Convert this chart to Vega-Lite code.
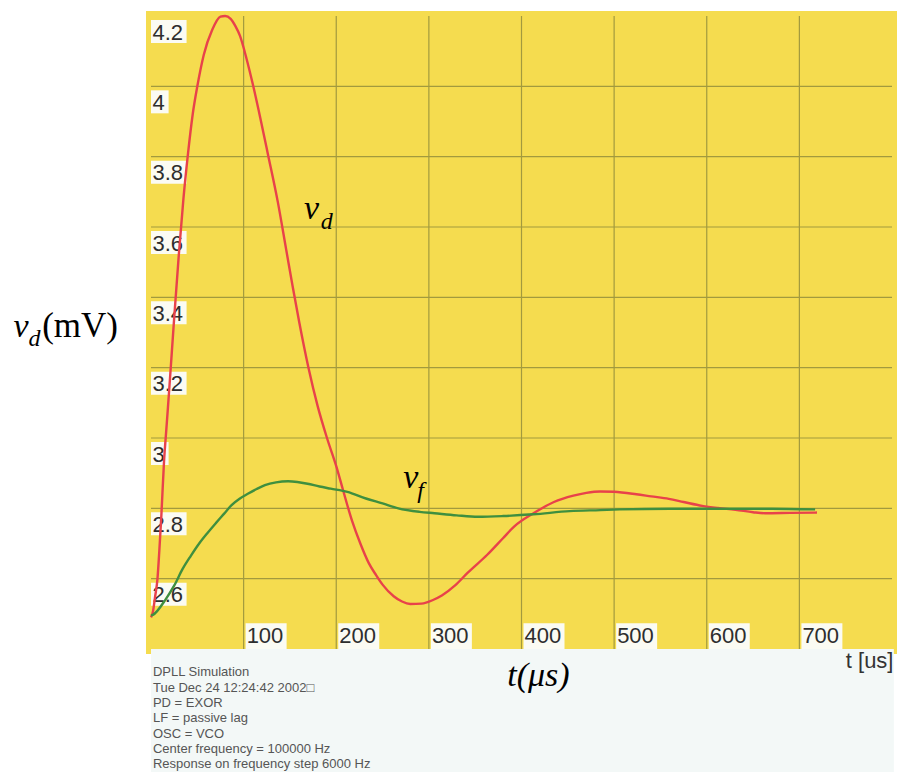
{
  "$schema": "https://vega.github.io/schema/vega-lite/v6.json",
  "width": 751,
  "height": 643,
  "autosize": {"type": "none"},
  "padding": {"left": 146, "top": 11, "right": 2, "bottom": 122},
  "background": "#ffffff",
  "config": {"view": {"stroke": null, "fill": "#f5dc4f"}},
  "datasets": {
    "curves": [
      {"series": "vd", "t": 0, "v": 2.49}, {"series": "vd", "t": 2, "v": 2.505}, {"series": "vd", "t": 4.5, "v": 2.55},
      {"series": "vd", "t": 7, "v": 2.6}, {"series": "vd", "t": 9, "v": 2.68}, {"series": "vd", "t": 11, "v": 2.77},
      {"series": "vd", "t": 14, "v": 2.93}, {"series": "vd", "t": 17, "v": 3.04}, {"series": "vd", "t": 20, "v": 3.15},
      {"series": "vd", "t": 25, "v": 3.34}, {"series": "vd", "t": 30, "v": 3.52}, {"series": "vd", "t": 35, "v": 3.68},
      {"series": "vd", "t": 40, "v": 3.81}, {"series": "vd", "t": 45, "v": 3.92}, {"series": "vd", "t": 50, "v": 4.0},
      {"series": "vd", "t": 57, "v": 4.09}, {"series": "vd", "t": 66, "v": 4.16}, {"series": "vd", "t": 75, "v": 4.198},
      {"series": "vd", "t": 80, "v": 4.2}, {"series": "vd", "t": 86, "v": 4.192}, {"series": "vd", "t": 91, "v": 4.172},
      {"series": "vd", "t": 96, "v": 4.144}, {"series": "vd", "t": 103, "v": 4.08}, {"series": "vd", "t": 110, "v": 4.005},
      {"series": "vd", "t": 118, "v": 3.91}, {"series": "vd", "t": 126, "v": 3.81}, {"series": "vd", "t": 137, "v": 3.67},
      {"series": "vd", "t": 146, "v": 3.535}, {"series": "vd", "t": 153, "v": 3.43}, {"series": "vd", "t": 160, "v": 3.33},
      {"series": "vd", "t": 170, "v": 3.2}, {"series": "vd", "t": 180, "v": 3.09}, {"series": "vd", "t": 190, "v": 3.0},
      {"series": "vd", "t": 200, "v": 2.92}, {"series": "vd", "t": 207, "v": 2.855}, {"series": "vd", "t": 217, "v": 2.765},
      {"series": "vd", "t": 226, "v": 2.7}, {"series": "vd", "t": 235, "v": 2.645}, {"series": "vd", "t": 243, "v": 2.61},
      {"series": "vd", "t": 250, "v": 2.583}, {"series": "vd", "t": 262, "v": 2.55}, {"series": "vd", "t": 271, "v": 2.535},
      {"series": "vd", "t": 280, "v": 2.528}, {"series": "vd", "t": 292, "v": 2.529}, {"series": "vd", "t": 305, "v": 2.54},
      {"series": "vd", "t": 314, "v": 2.552}, {"series": "vd", "t": 328, "v": 2.58}, {"series": "vd", "t": 342, "v": 2.617},
      {"series": "vd", "t": 363, "v": 2.668}, {"series": "vd", "t": 380, "v": 2.715}, {"series": "vd", "t": 392, "v": 2.748},
      {"series": "vd", "t": 413, "v": 2.786}, {"series": "vd", "t": 435, "v": 2.818}, {"series": "vd", "t": 456, "v": 2.836},
      {"series": "vd", "t": 470, "v": 2.844}, {"series": "vd", "t": 485, "v": 2.848}, {"series": "vd", "t": 500, "v": 2.847},
      {"series": "vd", "t": 524, "v": 2.84}, {"series": "vd", "t": 540, "v": 2.834}, {"series": "vd", "t": 559, "v": 2.827},
      {"series": "vd", "t": 575, "v": 2.818}, {"series": "vd", "t": 595, "v": 2.807}, {"series": "vd", "t": 612, "v": 2.801},
      {"series": "vd", "t": 631, "v": 2.796}, {"series": "vd", "t": 650, "v": 2.789}, {"series": "vd", "t": 663, "v": 2.786},
      {"series": "vd", "t": 690, "v": 2.787}, {"series": "vd", "t": 719, "v": 2.788},
      {"series": "vf", "t": 0, "v": 2.495}, {"series": "vf", "t": 2, "v": 2.497}, {"series": "vf", "t": 16, "v": 2.542},
      {"series": "vf", "t": 25, "v": 2.58}, {"series": "vf", "t": 34, "v": 2.627}, {"series": "vf", "t": 43, "v": 2.665},
      {"series": "vf", "t": 52, "v": 2.7}, {"series": "vf", "t": 61, "v": 2.73}, {"series": "vf", "t": 70, "v": 2.758},
      {"series": "vf", "t": 79, "v": 2.785}, {"series": "vf", "t": 87, "v": 2.809}, {"series": "vf", "t": 96, "v": 2.828},
      {"series": "vf", "t": 105, "v": 2.842}, {"series": "vf", "t": 114, "v": 2.855}, {"series": "vf", "t": 123, "v": 2.866},
      {"series": "vf", "t": 135, "v": 2.874}, {"series": "vf", "t": 148, "v": 2.877}, {"series": "vf", "t": 158, "v": 2.875},
      {"series": "vf", "t": 169, "v": 2.87}, {"series": "vf", "t": 182, "v": 2.862}, {"series": "vf", "t": 194, "v": 2.856},
      {"series": "vf", "t": 212, "v": 2.847}, {"series": "vf", "t": 232, "v": 2.828}, {"series": "vf", "t": 250, "v": 2.814},
      {"series": "vf", "t": 267, "v": 2.8}, {"series": "vf", "t": 290, "v": 2.79}, {"series": "vf", "t": 306, "v": 2.786},
      {"series": "vf", "t": 330, "v": 2.78}, {"series": "vf", "t": 353, "v": 2.776}, {"series": "vf", "t": 380, "v": 2.778},
      {"series": "vf", "t": 413, "v": 2.783}, {"series": "vf", "t": 452, "v": 2.792}, {"series": "vf", "t": 485, "v": 2.795},
      {"series": "vf", "t": 506, "v": 2.797}, {"series": "vf", "t": 560, "v": 2.799}, {"series": "vf", "t": 613, "v": 2.799},
      {"series": "vf", "t": 670, "v": 2.799}, {"series": "vf", "t": 717, "v": 2.797}
    ],
    "xticks": [{"t": 100}, {"t": 200}, {"t": 300}, {"t": 400}, {"t": 500}, {"t": 600}, {"t": 700}],
    "yticks": [{"v": 2.6}, {"v": 2.8}, {"v": 3.0}, {"v": 3.2}, {"v": 3.4}, {"v": 3.6}, {"v": 3.8}, {"v": 4.0}, {"v": 4.2}],
    "big": [
      {"label": "v", "t": 165.2, "v": 3.624},
      {"label": "v", "t": 272.2, "v": 2.858},
      {"label": "v", "t": -148.5, "v": 3.288},
      {"label": "t(μs)", "t": 384.6, "v": 2.294}
    ],
    "sub": [
      {"label": "d", "t": 183.2, "v": 3.593},
      {"label": "f", "t": 287.5, "v": 2.829},
      {"label": "d", "t": -132.3, "v": 3.263}
    ],
    "roman": [{"label": "(mV)", "t": -117.5, "v": 3.288}],
    "unit": [{"label": "t [us]", "t": 801.6, "v": 2.347}],
    "info": [{"label": "DPLL Simulation\nTue Dec 24 12:24:42 2002□\nPD = EXOR\nLF = passive lag\nOSC = VCO\nCenter frequency = 100000 Hz\nResponse on frequency step 6000 Hz", "t": 2.1, "v": 2.322}]
  },
  "layer": [
    {
      "data": {"values": [{"region": "footer"}]},
      "mark": {"type": "rect", "color": "#f3f8f7"},
      "encoding": {
        "x": {"datum": 0, "type": "quantitative", "scale": {"domain": [0, 800], "nice": false, "zero": false}, "axis": null},
        "x2": {"datum": 802},
        "y": {"datum": 2.4, "type": "quantitative", "scale": {"domain": [2.4, 4.2], "nice": false, "zero": false}, "axis": null},
        "y2": {"datum": 2.05}
      }
    },
    {
      "data": {"name": "xticks"},
      "mark": {"type": "rule", "color": "#a29a3e", "strokeWidth": 1.2},
      "encoding": {
        "x": {"field": "t", "type": "quantitative", "scale": {"domain": [0, 800], "nice": false, "zero": false}, "axis": null},
        "y": {"datum": 2.4, "type": "quantitative", "scale": {"domain": [2.4, 4.2], "nice": false, "zero": false}, "axis": null},
        "y2": {"datum": 4.2}
      }
    },
    {
      "data": {"name": "yticks"},
      "transform": [{"filter": "datum.v < 4.1"}],
      "mark": {"type": "rule", "color": "#a29a3e", "strokeWidth": 1.2},
      "encoding": {
        "x": {"datum": 0, "type": "quantitative", "scale": {"domain": [0, 800], "nice": false, "zero": false}, "axis": null},
        "x2": {"datum": 800},
        "y": {"field": "v", "type": "quantitative", "scale": {"domain": [2.4, 4.2], "nice": false, "zero": false}, "axis": null}
      }
    },
    {
      "data": {"name": "xticks"},
      "mark": {"type": "bar", "color": "#fbfbf3", "width": 41, "xOffset": 22.5},
      "encoding": {
        "x": {"field": "t", "type": "quantitative", "scale": {"domain": [0, 800], "nice": false, "zero": false}, "axis": null},
        "y": {"datum": 2.4, "type": "quantitative", "scale": {"domain": [2.4, 4.2], "nice": false, "zero": false}, "axis": null},
        "y2": {"datum": 2.473}
      }
    },
    {
      "data": {"name": "yticks"},
      "transform": [{"filter": "datum.v != 4 && datum.v != 3"}],
      "mark": {"type": "bar", "color": "#fbfbf3", "height": 23, "yOffset": 15.5},
      "encoding": {
        "x": {"datum": 0, "type": "quantitative", "scale": {"domain": [0, 800], "nice": false, "zero": false}, "axis": null},
        "x2": {"datum": 38.4},
        "y": {"field": "v", "type": "quantitative", "scale": {"domain": [2.4, 4.2], "nice": false, "zero": false}, "axis": null}
      }
    },
    {
      "data": {"name": "yticks"},
      "transform": [{"filter": "datum.v == 4 || datum.v == 3"}],
      "mark": {"type": "bar", "color": "#fbfbf3", "height": 23, "yOffset": 15.5},
      "encoding": {
        "x": {"datum": 0, "type": "quantitative", "scale": {"domain": [0, 800], "nice": false, "zero": false}, "axis": null},
        "x2": {"datum": 19},
        "y": {"field": "v", "type": "quantitative", "scale": {"domain": [2.4, 4.2], "nice": false, "zero": false}, "axis": null}
      }
    },
    {
      "data": {"name": "xticks"},
      "mark": {"type": "text", "align": "left", "baseline": "alphabetic", "dx": 3, "dy": -6, "font": "Liberation Sans", "fontSize": 22, "color": "#2e2e2e"},
      "encoding": {
        "x": {"field": "t", "type": "quantitative", "scale": {"domain": [0, 800], "nice": false, "zero": false}, "axis": null},
        "y": {"datum": 2.4, "type": "quantitative", "scale": {"domain": [2.4, 4.2], "nice": false, "zero": false}, "axis": null},
        "text": {"field": "t", "type": "quantitative", "format": "d"}
      }
    },
    {
      "data": {"name": "yticks"},
      "mark": {"type": "text", "align": "left", "baseline": "alphabetic", "dx": 1.5, "dy": 23.5, "font": "Liberation Sans", "fontSize": 22, "color": "#2e2e2e"},
      "encoding": {
        "x": {"datum": 0, "type": "quantitative", "scale": {"domain": [0, 800], "nice": false, "zero": false}, "axis": null},
        "y": {"field": "v", "type": "quantitative", "scale": {"domain": [2.4, 4.2], "nice": false, "zero": false}, "axis": null},
        "text": {"field": "v", "type": "quantitative", "format": ".1~f"}
      }
    },
    {
      "data": {"name": "curves"},
      "mark": {"type": "line", "strokeWidth": 2.4, "interpolate": "monotone"},
      "encoding": {
        "x": {"field": "t", "type": "quantitative", "scale": {"domain": [0, 800], "nice": false, "zero": false}, "axis": null},
        "y": {"field": "v", "type": "quantitative", "scale": {"domain": [2.4, 4.2], "nice": false, "zero": false}, "axis": null},
        "color": {"field": "series", "type": "nominal", "legend": null, "scale": {"domain": ["vd", "vf"], "range": ["#e8424a", "#3f8f3f"]}}
      }
    },
    {
      "data": {"name": "big"},
      "mark": {"type": "text", "align": "left", "baseline": "alphabetic", "font": "Liberation Serif", "fontStyle": "italic", "fontSize": 34, "color": "#000000"},
      "encoding": {
        "x": {"field": "t", "type": "quantitative", "scale": {"domain": [0, 800], "nice": false, "zero": false}, "axis": null},
        "y": {"field": "v", "type": "quantitative", "scale": {"domain": [2.4, 4.2], "nice": false, "zero": false}, "axis": null},
        "text": {"field": "label"}
      }
    },
    {
      "data": {"name": "sub"},
      "mark": {"type": "text", "align": "left", "baseline": "alphabetic", "font": "Liberation Serif", "fontStyle": "italic", "fontSize": 24, "color": "#000000"},
      "encoding": {
        "x": {"field": "t", "type": "quantitative", "scale": {"domain": [0, 800], "nice": false, "zero": false}, "axis": null},
        "y": {"field": "v", "type": "quantitative", "scale": {"domain": [2.4, 4.2], "nice": false, "zero": false}, "axis": null},
        "text": {"field": "label"}
      }
    },
    {
      "data": {"name": "roman"},
      "mark": {"type": "text", "align": "left", "baseline": "alphabetic", "font": "Liberation Serif", "fontSize": 35, "color": "#000000"},
      "encoding": {
        "x": {"field": "t", "type": "quantitative", "scale": {"domain": [0, 800], "nice": false, "zero": false}, "axis": null},
        "y": {"field": "v", "type": "quantitative", "scale": {"domain": [2.4, 4.2], "nice": false, "zero": false}, "axis": null},
        "text": {"field": "label"}
      }
    },
    {
      "data": {"name": "unit"},
      "mark": {"type": "text", "align": "right", "baseline": "alphabetic", "font": "Liberation Sans", "fontSize": 22, "color": "#333333"},
      "encoding": {
        "x": {"field": "t", "type": "quantitative", "scale": {"domain": [0, 800], "nice": false, "zero": false}, "axis": null},
        "y": {"field": "v", "type": "quantitative", "scale": {"domain": [2.4, 4.2], "nice": false, "zero": false}, "axis": null},
        "text": {"field": "label"}
      }
    },
    {
      "data": {"name": "info"},
      "mark": {"type": "text", "align": "left", "baseline": "alphabetic", "lineBreak": "\n", "lineHeight": 15.3, "font": "Liberation Sans", "fontSize": 13, "color": "#555555"},
      "encoding": {
        "x": {"field": "t", "type": "quantitative", "scale": {"domain": [0, 800], "nice": false, "zero": false}, "axis": null},
        "y": {"field": "v", "type": "quantitative", "scale": {"domain": [2.4, 4.2], "nice": false, "zero": false}, "axis": null},
        "text": {"field": "label"}
      }
    }
  ]
}
